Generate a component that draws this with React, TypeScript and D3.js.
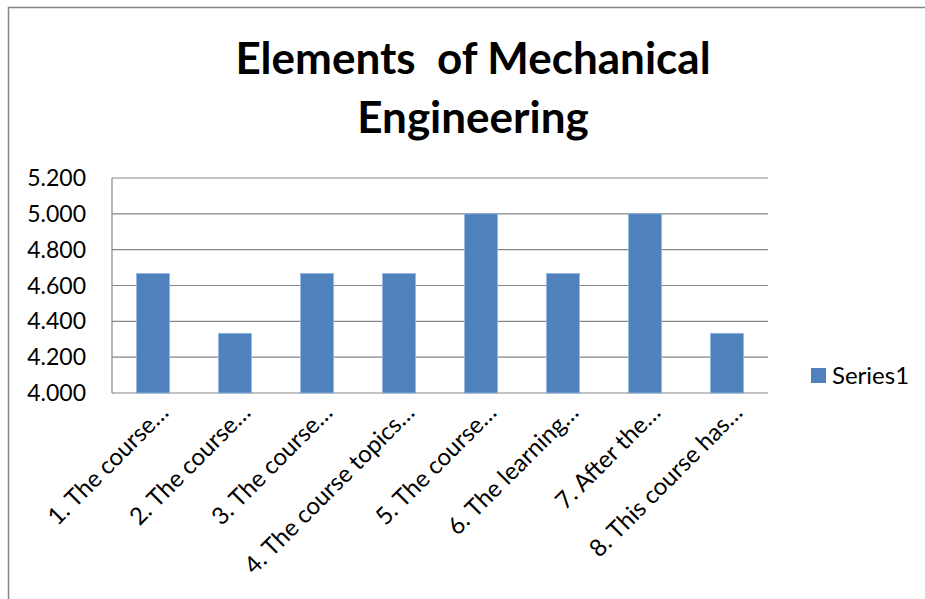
import * as d3 from 'd3';

const categories = [
  '1. The course…',
  '2. The course…',
  '3. The course…',
  '4. The course topics…',
  '5. The course…',
  '6. The learning…',
  '7. After the…',
  '8. This course has…',
];
const series1 = [4.667, 4.333, 4.667, 4.667, 5.0, 4.667, 5.0, 4.333];
const yTicks = [4.0, 4.2, 4.4, 4.6, 4.8, 5.0, 5.2];

const W = 925;
const H = 599;
const plot = { left: 112, right: 768, top: 178, bottom: 393 };
const font = 'Lato, "Open Sans", sans-serif';
const barColor = '#4F81BD';
const gridColor = '#868686';

export default function App() {
  const x = d3
    .scaleBand<string>()
    .domain(categories)
    .range([plot.left, plot.right])
    .paddingInner(0.6)
    .paddingOuter(0.3);
  const y = d3.scaleLinear().domain([4.0, 5.2]).range([plot.bottom, plot.top]);
  const fmt = d3.format('.3f');

  return (
    <svg
      width={W}
      height={H}
      style={{ position: 'absolute', left: 0, top: 0, background: '#fff' }}
      fontFamily={font}
    >
      {/* chart frame, runs off the right and bottom edges */}
      <rect x={8.5} y={7.5} width={W + 20} height={H + 20} fill="#fff" stroke={gridColor} strokeWidth={1.5} />

      <text x={473} y={74} textAnchor="middle" fontSize={44} fontWeight="bold" fill="#000" style={{ whiteSpace: 'pre' }}>
        {'Elements  of Mechanical'}
      </text>
      <text x={473} y={133} textAnchor="middle" fontSize={44} fontWeight="bold" fill="#000">
        Engineering
      </text>

      {/* gridlines */}
      {yTicks.map(t => (
        <line key={t} x1={plot.left} x2={plot.right} y1={y(t)} y2={y(t)} stroke={gridColor} strokeWidth={1.2} />
      ))}
      <line x1={plot.left} x2={plot.left} y1={plot.top} y2={plot.bottom} stroke={gridColor} strokeWidth={1.2} />

      {yTicks.map(t => (
        <text key={t} x={86} y={y(t)} dy="0.35em" textAnchor="end" fontSize={23} fill="#000">
          {fmt(t)}
        </text>
      ))}

      {series1.map((v, i) => (
        <rect
          key={i}
          x={x(categories[i])!}
          y={y(v)}
          width={x.bandwidth()}
          height={y(4.0) - y(v)}
          fill={barColor}
          stroke="#8EB4E3"
          strokeWidth={0.8}
        />
      ))}

      {categories.map(c => {
        const cx = x(c)! + x.bandwidth() / 2;
        return (
          <text
            key={c}
            transform={`translate(${cx + 11},${plot.bottom + 15}) rotate(-45)`}
            textAnchor="end"
            dy="0.35em"
            fontSize={24}
            fill="#000"
          >
            {c}
          </text>
        );
      })}

      {/* legend */}
      <rect x={811} y={368} width={15} height={15} fill={barColor} />
      <text x={832} y={375.5} dy="0.35em" fontSize={24} fill="#000">
        Series1
      </text>
    </svg>
  );
}
